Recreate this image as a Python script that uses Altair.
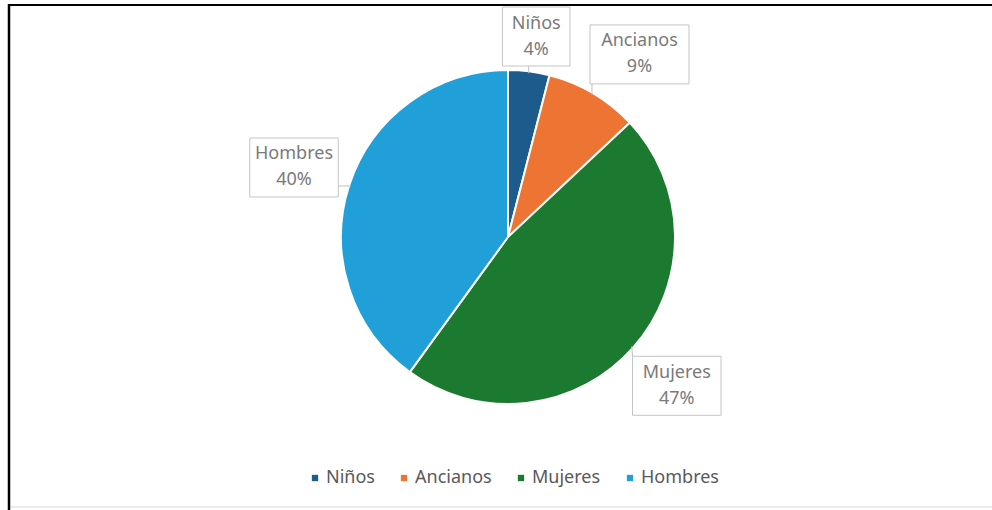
import math
import altair as alt
import pandas as pd

# ---- data ----
categories = ["Niños", "Ancianos", "Mujeres", "Hombres"]
values = [4, 9, 47, 40]
colors = ["#1d5b8c", "#ee7434", "#1b7a30", "#219fd9"]

# ---- layout / style ----
W, H = 968, 474          # view size
PAD_L, PAD_B = 24, 36    # padding puts pie centre at (508, 237)
R = 167                  # pie radius
R_LAB = 225              # label radius
BOX_H = 59
GAP = 20
FONT = "Noto Sans"
FS = 18
LH = 26


def box_w(s):
    return len(s) * 10.5 + 15


df = pd.DataFrame({"category": categories, "value": values, "idx": range(len(categories))})

# label boxes: placed at mid-angle, kept inside the chart and apart from each other
total = sum(values)
rows = []
placed = []
cum = 0
for c, v in zip(categories, values):
    a_mid = (cum + v / 2) / total * 2 * math.pi
    cum += v
    a = a_mid
    bw = box_w(c)
    while True:
        cx = R_LAB * math.sin(a)
        cy = -R_LAB * math.cos(a)
        cy = max(cy, -H / 2 + 7 + BOX_H / 2)
        x0, x1, y0, y1 = cx - bw / 2, cx + bw / 2, cy - BOX_H / 2, cy + BOX_H / 2
        ok = all(
            x1 + GAP <= p[0] or x0 >= p[1] + GAP or y1 + GAP <= p[2] or y0 >= p[3] + GAP
            for p in placed
        )
        if ok:
            break
        a += 0.005
    placed.append((x0, x1, y0, y1))
    # leader: from slice edge at mid-angle to nearest point of the box
    ax = (R - 2) * math.sin(a_mid)
    ay = -(R - 2) * math.cos(a_mid)
    lx = min(max(ax, x0), x1)
    ly = min(max(ay, y0), y1)
    rows.append({"cx": cx, "cy": cy, "x0": x0, "x1": x1, "y0": y0, "y1": y1,
                 "ax": ax, "ay": ay, "lx": lx, "ly": ly,
                 "label": f"{c}\n{v}%"})
lab = pd.DataFrame(rows)

xs = alt.Scale(domain=[-W / 2, W / 2], range=[0, W], zero=False, nice=False)
ys = alt.Scale(domain=[-H / 2, H / 2], range=[0, H], zero=False, nice=False)

arcs = alt.Chart(df).mark_arc(outerRadius=R, stroke="white", strokeWidth=2).encode(
    theta=alt.Theta("value:Q", stack=True),
    order=alt.Order("idx:Q"),
    color=alt.Color(
        "category:N",
        scale=alt.Scale(domain=categories, range=colors),
        legend=alt.Legend(
            orient="none", legendX=282, legendY=469, direction="horizontal",
            title=None, symbolType="square", symbolSize=40, symbolStrokeWidth=0,
            labelFontSize=FS, labelFont=FONT, labelColor="#595959",
            columnPadding=20, labelOffset=2, padding=0,
        ),
    ),
)

leaders = alt.Chart(lab).mark_rule(color="#bfbfbf", strokeWidth=1).encode(
    x=alt.X("ax:Q", scale=xs, axis=None), x2="lx:Q",
    y=alt.Y("ay:Q", scale=ys, axis=None), y2="ly:Q",
)

boxes = alt.Chart(lab).mark_rect(fill="white", stroke="#c4c4c4", strokeWidth=1).encode(
    x=alt.X("x0:Q", scale=xs, axis=None), x2="x1:Q",
    y=alt.Y("y0:Q", scale=ys, axis=None), y2="y1:Q",
)

texts = alt.Chart(lab).mark_text(
    font=FONT, fontSize=FS, color="#7a7a7a", lineBreak="\n", lineHeight=LH,
    baseline="middle", align="center", dy=-LH / 2,
).encode(
    x=alt.X("cx:Q", scale=xs, axis=None),
    y=alt.Y("cy:Q", scale=ys, axis=None),
    text="label:N",
)

dummy = pd.DataFrame({"d": [0]})
top_rule = alt.Chart(dummy).mark_rule(color="black", strokeWidth=2).encode(
    x=alt.value(-16), x2=alt.value(W + 10), y=alt.value(5))
left_rule = alt.Chart(dummy).mark_rule(color="black", strokeWidth=2.5).encode(
    x=alt.value(-15), y=alt.value(4), y2=alt.value(H + 40))
bottom_rule = alt.Chart(dummy).mark_rule(color="#e4e4e4", strokeWidth=1.5).encode(
    x=alt.value(-13), x2=alt.value(W + 10), y=alt.value(H + 33))

chart = alt.layer(arcs, leaders, boxes, texts, top_rule, left_rule, bottom_rule).properties(
    width=W, height=H,
    padding={"left": PAD_L, "top": 0, "right": 0, "bottom": PAD_B},
    autosize=alt.AutoSizeParams(type="none"),
    background="white",
).configure_view(stroke="transparent", strokeWidth=0)

chart.save("out.html", embed_options={"renderer": "svg", "actions": False})
